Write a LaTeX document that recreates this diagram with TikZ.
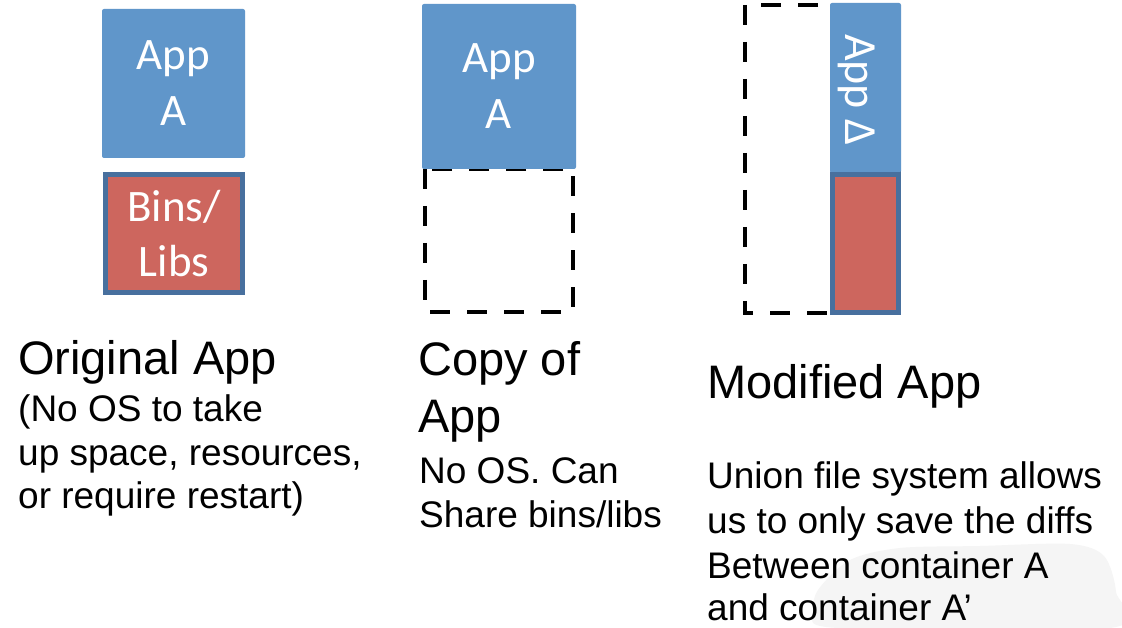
\documentclass[tikz,border=0pt]{standalone}
\usepackage{fontspec}
\setmainfont{Liberation Sans}
\newfontfamily\boxfont{Carlito}
\definecolor{appblue}{RGB}{96,150,202}
\definecolor{libred}{RGB}{205,102,94}
\definecolor{libborder}{RGB}{72,112,158}
\begin{document}
\begin{tikzpicture}[x=1pt,y=-1pt,
  appbox/.style={fill=appblue, draw=none, rounded corners=2pt, inner sep=0pt, align=center,
    text=white, font=\boxfont\fontsize{45}{56}\selectfont},
  libbox/.style={fill=libred, draw=libborder, line width=5pt, inner sep=0pt, align=center,
    text=white, font=\boxfont\fontsize{45}{55}\selectfont},
  ghost/.style={draw=black, line width=4.5pt, dash pattern=on 20pt off 17pt},
  title/.style={anchor=base west, inner sep=0pt, font=\fontsize{47}{56}\selectfont},
  body/.style={anchor=base west, inner sep=0pt, font=\fontsize{37}{44}\selectfont}]
\useasboundingbox[fill=white] (0,0) rectangle (1122,628);
% faint background blob
\fill[black!4] plot[smooth cycle, tension=0.5] coordinates {(818,590) (850,560) (900,548) (980,546) (1070,544) (1104,556) (1116,592) (1110,628) (838,628) (815,612)};
% column 1
\node[appbox, minimum width=143pt, minimum height=149pt] (appA1) at (173.5,83.5) {\raisebox{-4pt}{App}\\\raisebox{-4pt}{A}};
\node[libbox, minimum width=137pt, minimum height=118pt] (libs1) at (174,233.5) {Bins/\\Libs};
% column 2
\draw[ghost] (425,169) rectangle (573,312);
\node[appbox, minimum width=154pt, minimum height=165pt] (appA2) at (499,86.5) {\raisebox{-4pt}{App}\\\raisebox{-4pt}{A}};
% column 3
\draw[ghost] (745,5) rectangle (899,313);
\node[appbox, minimum width=71pt, minimum height=170pt] (delta) at (865.5,88) {};
\node[rotate=-90, anchor=base west, inner sep=0pt, text=white, font=\boxfont\fontsize{46}{55}\selectfont] (deltatext) at (845,34) {App Δ};
\node[libbox, minimum width=66pt, minimum height=138pt] (libs3) at (865.5,244) {};
% labels column 1
\node[title] (t1) at (18,374) {Original App};
\node[body] (b1a) at (18,421) {(No OS to take};
\node[body] (b1b) at (18,465) {up space, resources,};
\node[body] (b1c) at (18,508) {or require restart)};
% labels column 2
\node[title] (t2a) at (418,375) {Copy of};
\node[title] (t2b) at (418,432) {App};
\node[body] (b2a) at (419,483) {No OS. Can};
\node[body] (b2b) at (419,527) {Share bins/libs};
% labels column 3
\node[title] (t3) at (707,398) {Modified App};
\node[body] (b3a) at (707,488) {Union file system allows};
\node[body] (b3b) at (707,533) {us to only save the diffs};
\node[body] (b3c) at (707,578) {Between container A};
\node[body] (b3d) at (707,620) {and container A’};
\end{tikzpicture}
\end{document}
